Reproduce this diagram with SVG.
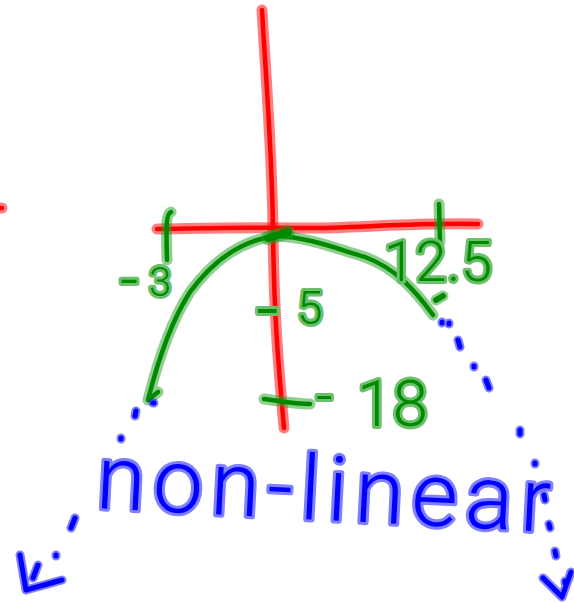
<svg xmlns="http://www.w3.org/2000/svg" width="574" height="603" viewBox="0 0 574 603">
<style>
.halo{fill:none;stroke-linecap:round;stroke-linejoin:round;stroke-width:11;stroke-opacity:0.5}
.core{fill:none;stroke-linecap:round;stroke-linejoin:round;stroke-width:4.5}
.red{stroke:#ff0000}
.green{stroke:#008a00}
.greenh{stroke:#22a022}
.blue{stroke:#0000ff}
.lbl{font-family:Roboto,Lato,"Liberation Sans",sans-serif;font-weight:300;paint-order:stroke;stroke-linejoin:round;stroke-linecap:round;stroke-width:6}
.glbl{fill:#008a00;stroke:#6cc06c}
.blbl{fill:#0000ff;stroke:#8080ff}
</style>
<rect width="574" height="603" fill="#ffffff"/>
<defs>
<path id="vaxis" d="M262,10 C266,80 272,150 273,230 S277,350 284,428"/>
<path id="haxis" d="M157,229 C220,228 260,227 300,228 S420,222 478,224"/>
<path id="rdot" d="M1,208 L2,208"/>
<path id="tickL" d="M171,212 C166,214 166,225 167,260"/>
<path id="tickR" d="M439,204 L440,242"/>
<path id="curve" d="M158,392 L148,400 C158,360 172,320 190,292 C215,258 245,240 275,236 C310,237 340,250 365,257 C395,268 415,290 433,315"/>
<path id="oblob" d="M268,238 L288,232"/>
<path id="rblob" d="M436,300 L443,296"/>
<path id="tick18" d="M264,399 C280,401 295,404 310,404"/>
<path id="bl" d="M153,403 L154,403 M136,411 L135,416 M121,438 L121,439 M75,518 L71,528 M56,555 L56,556 M20,555 L26,590 L62,580 M38,565 L33,578"/>
<path id="br" d="M442,322 L442,323 M449,323 L449,324 M458,340 L460,347 M474,366 L474,367 M486,380 L489,388 M520,430 L520,434 M535,463 L535,464 M544,495 L545,500 M549,524 L550,528 M555,551 L556,556 M543,578 L562,597 L571,572 M565,581 L565,583"/>
</defs>
<g id="axes">
<use href="#vaxis" class="halo red"/><use href="#vaxis" class="core red"/>
<use href="#haxis" class="halo red"/><use href="#haxis" class="core red"/>
<use href="#rdot" class="halo red"/><use href="#rdot" class="core red"/>
</g>
<g id="marks">
<use href="#tickL" class="halo greenh"/><use href="#tickL" class="core green"/>
<use href="#tickR" class="halo greenh"/><use href="#tickR" class="core green"/>
<use href="#tick18" class="halo greenh"/><use href="#tick18" class="core green"/>
</g>
<g id="parabola">
<use href="#curve" class="halo greenh"/><use href="#curve" class="core green"/>
<use href="#oblob" class="halo greenh" style="stroke-width:14"/><use href="#oblob" class="core green" style="stroke-width:8"/>
<use href="#rblob" class="halo greenh"/><use href="#rblob" class="core green" style="stroke-width:6"/>
</g>
<g id="extensions">
<use href="#bl" class="halo blue" style="stroke-width:9"/><use href="#bl" class="core blue" style="stroke-width:5"/>
<use href="#br" class="halo blue" style="stroke-width:9"/><use href="#br" class="core blue" style="stroke-width:5"/>
</g>
<g id="labels">
<text class="lbl glbl"><tspan x="120" y="302" font-size="64">-</tspan><tspan x="149" y="296" font-size="40">3</tspan></text>
<text class="lbl glbl"><tspan x="256" y="336" font-size="80">-</tspan><tspan x="297" y="324" font-size="46">5</tspan></text>
<text class="lbl glbl"><tspan x="316" y="416" font-size="58">-</tspan><tspan x="357" y="426" font-size="64">18</tspan></text>
<text class="lbl glbl" x="384" y="281" font-size="56" textLength="108" lengthAdjust="spacing">12.5</text>
<text class="lbl blbl" x="95" y="508" font-size="90" textLength="455" lengthAdjust="spacing" transform="rotate(3 95 508)">non-linear</text>
</g>
</svg>
